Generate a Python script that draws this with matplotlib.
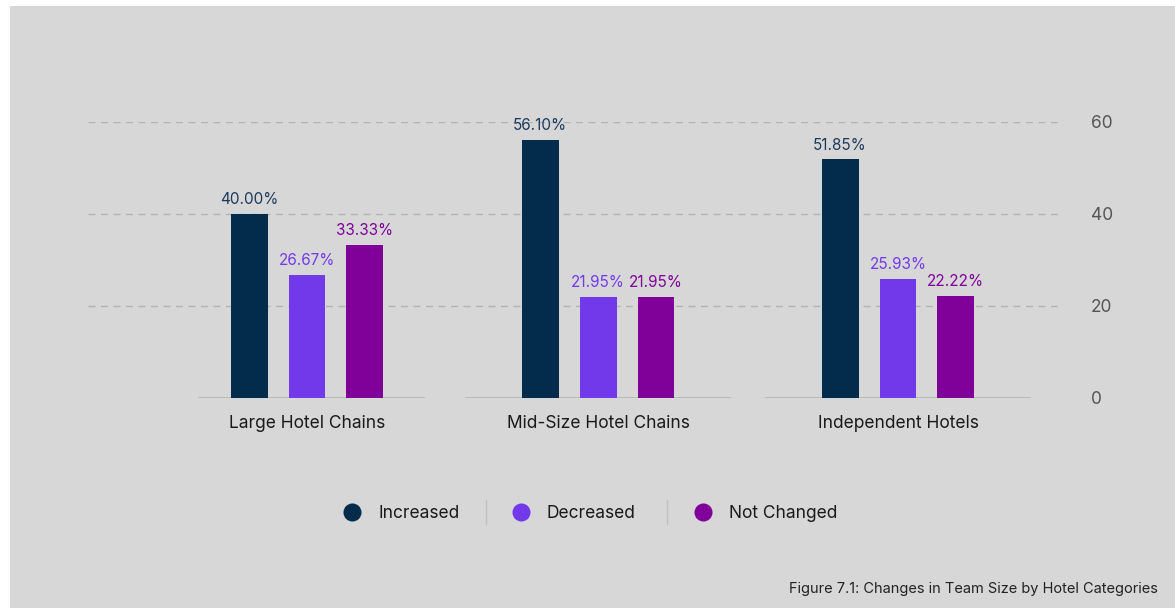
import matplotlib.pyplot as plt
import numpy as np
from matplotlib.lines import Line2D
from matplotlib.patches import Rectangle

plt.rcParams['font.family'] = ['Inter', 'DejaVu Sans']

categories = ['Large Hotel Chains', 'Mid-Size Hotel Chains', 'Independent Hotels']
series_names = ['Increased', 'Decreased', 'Not Changed']
increased = [40.00, 56.10, 51.85]
decreased = [26.67, 21.95, 25.93]
not_changed = [33.33, 21.95, 22.22]
y_ticks = [0, 20, 40, 60]

colors = ['#022b4c', '#7239ea', '#80009a']
label_colors = ['#1d3a5c', '#7239ea', '#80009a']
bg = '#d7d7d7'

W, H = 1175, 608
fig = plt.figure(figsize=(W / 100, H / 100), dpi=100, facecolor='white')
fig.add_artist(Rectangle((10 / W, 0), 1 - 10 / W, 1 - 6 / H, transform=fig.transFigure,
                         facecolor=bg, edgecolor='none', zorder=-10))

# plotting area: x from 88px to 1062px, y=0 at 398px, y=60 at 122px
ax = fig.add_axes([88 / W, (H - 398) / H, (1062 - 88) / W, (398 - 122) / H])
ax.set_facecolor('none')

x = np.array([0, 0.985, 2.0])
width = 0.125
step = 0.196
for i, vals in enumerate([increased, decreased, not_changed]):
    xs = x + (i - 1) * step
    ax.bar(xs, vals, width=width, color=colors[i], zorder=3)
    for xi, v in zip(xs, vals):
        ax.annotate(f'{v:.2f}%', (xi, v), xytext=(0, 5), textcoords='offset points',
                    ha='center', va='bottom', fontsize=11, color=label_colors[i],
                    annotation_clip=False)

# baseline drawn as one segment under each group
seg_left = [-0.37, -0.45, -0.45]
seg_right = [0.40, 0.45, 0.45]
for xi, l, r in zip(x, seg_left, seg_right):
    ax.plot([xi + l, xi + r], [0, 0], color='#b5b5b5', lw=1.2, zorder=2,
            solid_capstyle='butt')

ax.set_xlim(-0.741, 2.555)
ax.set_ylim(0, 60)
ax.set_yticks(y_ticks)
ax.yaxis.tick_right()
ax.tick_params(axis='y', length=0, pad=21, labelsize=12.5, labelcolor='#555555')
for yv in y_ticks[1:]:
    ax.axhline(yv, color='#b3b3b3', lw=1, ls=(0, (5, 4)), zorder=1)
ax.set_xticks(x)
ax.set_xticklabels(categories, fontsize=12.5, color='#1a1a1a')
ax.tick_params(axis='x', length=0, pad=12)
for s in ax.spines.values():
    s.set_visible(False)

# legend row with separators
leg_y = (H - 512) / H
dots = [352, 521, 703]
for px, name, c in zip(dots, series_names, colors):
    fig.add_artist(Line2D([px / W], [leg_y], marker='o', markersize=13, color=c,
                          markeredgewidth=0, transform=fig.transFigure))
    fig.text((px + 26) / W, (H - 513) / H, name, fontsize=12.5, color='#1a1a1a',
             ha='left', va='center')
for px in [486, 667]:
    fig.add_artist(Line2D([px / W, px / W], [(H - 500) / H, (H - 524) / H],
                          color='#c0c0c0', lw=1, transform=fig.transFigure))

fig.text(1158 / W, (H - 589) / H, 'Figure 7.1: Changes in Team Size by Hotel Categories',
         fontsize=10.5, color='#222222', ha='right', va='center')

fig.savefig('out.png', dpi=100, facecolor=fig.get_facecolor())
